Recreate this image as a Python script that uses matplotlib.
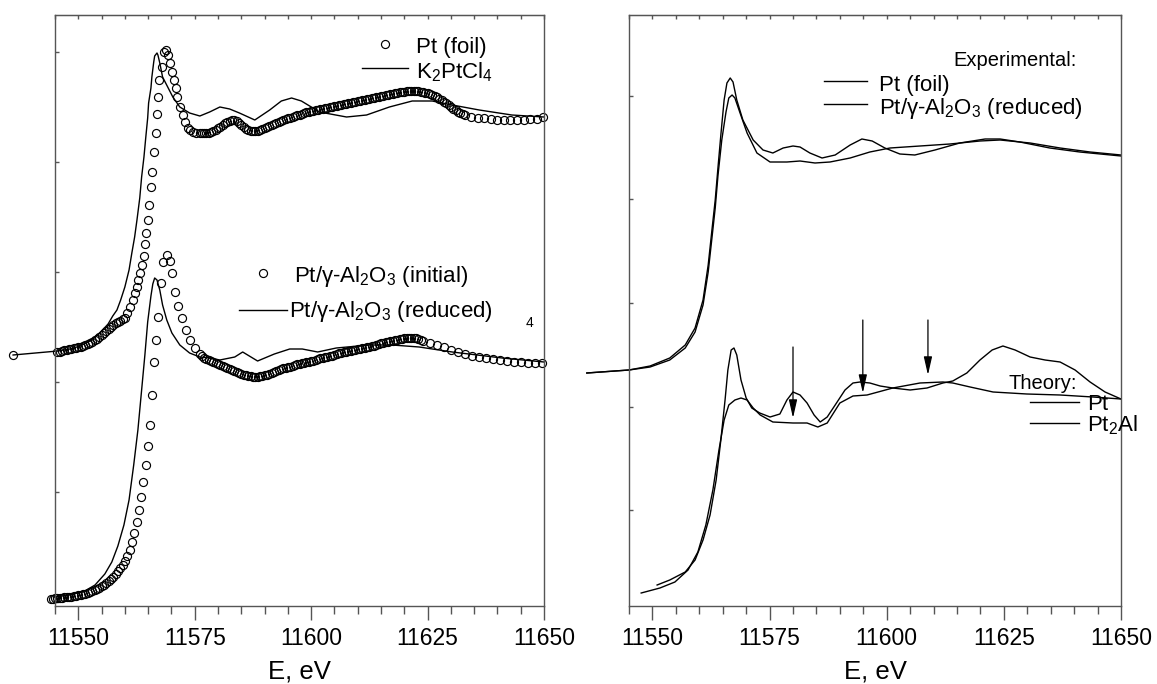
import matplotlib
matplotlib.use('Agg')
import matplotlib.pyplot as plt
from matplotlib.ticker import MultipleLocator
from matplotlib.lines import Line2D

plt.rcParams['font.family'] = ['Liberation Sans', 'DejaVu Sans']
plt.rcParams['mathtext.fontset'] = 'custom'
plt.rcParams['mathtext.rm'] = 'Liberation Sans'

# ---------------- data (E in eV, normalized absorption with offsets) ----------------
# Left panel: Pt foil (circles, upper)
foil_E = [11536.0,
          11545.5, 11546.0, 11546.5, 11547.0, 11547.5, 11548.0, 11548.5, 11549.0, 11549.5, 11550.0,
          11550.5, 11551.0, 11551.5, 11552.0, 11552.5, 11553.0, 11553.5, 11554.0, 11554.5, 11555.0,
          11555.5, 11556.0, 11556.5, 11557.0, 11557.5, 11558.0, 11558.5, 11559.0, 11559.5,
          11560.0, 11560.4, 11561.1, 11561.7, 11562.1, 11562.6, 11562.8, 11563.2, 11563.6, 11564.1,
          11564.3, 11564.5, 11564.9, 11565.1, 11565.6, 11565.8, 11566.2, 11566.6, 11566.9, 11567.1,
          11567.3, 11567.9, 11568.5, 11568.8, 11569.2, 11569.6, 11570.1, 11570.5, 11570.9, 11571.1,
          11571.8, 11572.4, 11572.9, 11573.5, 11574.0, 11574.6, 11575.3, 11576.1,
          11576.5, 11577.0, 11577.5, 11578.0, 11578.5, 11579.0, 11579.5, 11580.0, 11580.5, 11581.0,
          11581.5, 11582.0, 11582.5, 11583.0, 11583.5, 11584.0, 11584.5, 11585.0, 11585.5, 11586.0,
          11586.5, 11587.0, 11587.5, 11588.0, 11588.5, 11589.0, 11589.5, 11590.0, 11590.5, 11591.0,
          11591.5, 11592.0, 11592.5, 11593.0, 11593.5, 11594.0, 11594.5, 11595.0, 11595.5, 11596.0,
          11596.5, 11597.0, 11597.5, 11598.0, 11598.5, 11599.0, 11599.5, 11600.0, 11600.5, 11601.0,
          11601.5, 11602.0, 11602.5, 11603.0, 11603.5, 11604.0, 11604.5, 11605.0, 11605.5, 11606.0,
          11606.5, 11607.0, 11607.5, 11608.0, 11608.5, 11609.0, 11609.5, 11610.0, 11610.5, 11611.0,
          11611.5, 11612.0, 11612.5, 11613.0, 11613.5, 11614.0, 11614.5, 11615.0, 11615.5, 11616.0,
          11616.5, 11617.0, 11617.5, 11618.0, 11618.5, 11619.0, 11619.5, 11620.0, 11620.5, 11621.0,
          11621.5, 11622.0, 11622.5, 11623.0, 11623.5, 11624.0, 11624.5, 11625.0, 11625.5, 11626.0,
          11626.5, 11627.0, 11627.5, 11628.0, 11628.5, 11629.0, 11629.5, 11630.0, 11630.5, 11631.0,
          11631.5, 11632.0, 11632.5, 11633.0,
          11634.4, 11635.8, 11637.2, 11638.6, 11640.0, 11641.4, 11642.8, 11644.2, 11645.6, 11647.0,
          11648.4, 11649.8]
foil_mu = [2.45,
           2.48, 2.48, 2.49, 2.50, 2.50, 2.51, 2.51, 2.52, 2.52, 2.53,
           2.53, 2.54, 2.55, 2.56, 2.57, 2.58, 2.60, 2.61, 2.63, 2.65,
           2.67, 2.69, 2.71, 2.73, 2.75, 2.77, 2.78, 2.79, 2.81,
           2.82, 2.87, 2.93, 3.00, 3.07, 3.13, 3.20, 3.27, 3.35, 3.44,
           3.56, 3.67, 3.80, 3.95, 4.13, 4.28, 4.48, 4.67, 4.86, 5.03,
           5.20, 5.33, 5.48, 5.50, 5.45, 5.37, 5.28, 5.20, 5.12, 5.03,
           4.93, 4.85, 4.78, 4.72, 4.70, 4.68, 4.67, 4.67,
           4.67, 4.67, 4.67, 4.67, 4.68, 4.69, 4.70, 4.72, 4.73, 4.75,
           4.77, 4.78, 4.79, 4.80, 4.80, 4.79, 4.77, 4.75, 4.73, 4.71,
           4.70, 4.69, 4.69, 4.69, 4.69, 4.70, 4.71, 4.72, 4.73, 4.74,
           4.75, 4.76, 4.77, 4.78, 4.79, 4.80, 4.81, 4.82, 4.82, 4.83,
           4.84, 4.85, 4.85, 4.86, 4.87, 4.88, 4.88, 4.89, 4.89, 4.90,
           4.90, 4.91, 4.91, 4.92, 4.92, 4.93, 4.93, 4.94, 4.94, 4.95,
           4.95, 4.96, 4.96, 4.97, 4.97, 4.98, 4.98, 4.99, 4.99, 5.00,
           5.00, 5.01, 5.01, 5.02, 5.02, 5.03, 5.03, 5.04, 5.04, 5.05,
           5.05, 5.06, 5.06, 5.07, 5.07, 5.08, 5.08, 5.08, 5.09, 5.09,
           5.09, 5.09, 5.09, 5.09, 5.08, 5.08, 5.07, 5.07, 5.06, 5.05,
           5.04, 5.03, 5.01, 5.00, 4.98, 4.97, 4.95, 4.93, 4.91, 4.90,
           4.88, 4.87, 4.86, 4.85,
           4.83, 4.82, 4.82, 4.81, 4.80, 4.80, 4.80, 4.80, 4.80, 4.81,
           4.81, 4.83]

# Left panel: K2PtCl4 (line, upper)
k2_E = [11536.0, 11545.6, 11548.2, 11550.4, 11552.5, 11554.6, 11556.4, 11557.4, 11558.3, 11559.1,
        11560.0, 11560.9, 11561.5, 11562.1, 11562.6, 11563.2, 11563.6, 11564.1, 11564.5, 11564.9,
        11565.1, 11565.6, 11565.8, 11566.2, 11566.4, 11566.9, 11567.1, 11567.5, 11568.1, 11569.2,
        11570.3, 11571.8, 11573.9, 11576.1, 11578.2, 11580.4, 11582.5, 11584.6, 11587.9, 11591.1,
        11593.6, 11595.8, 11597.9, 11601.8, 11607.6, 11611.9, 11616.8, 11621.7, 11626.0, 11630.3,
        11636.1, 11643.1, 11650.0]
k2_mu = [2.45, 2.49, 2.51, 2.54, 2.59, 2.67, 2.76, 2.84, 2.90, 3.00,
         3.13, 3.30, 3.47, 3.63, 3.80, 4.02, 4.23, 4.43, 4.63, 4.82,
         4.97, 5.12, 5.23, 5.38, 5.44, 5.47, 5.45, 5.37, 5.23, 5.13,
         5.03, 4.93, 4.87, 4.84, 4.88, 4.93, 4.91, 4.87, 4.80, 4.90,
         4.99, 5.02, 4.99, 4.88, 4.83, 4.85, 4.93, 4.99, 4.99, 4.95,
         4.90, 4.85, 4.83]

# Left panel: Pt/γ-Al2O3 initial (circles, lower)
init_E = [11544.1, 11544.6,
          11545.0, 11545.5, 11546.0, 11546.5, 11547.0, 11547.5, 11548.0, 11548.5, 11549.0, 11549.5,
          11550.0, 11550.5, 11551.0, 11551.5, 11552.0, 11552.5, 11553.0, 11553.5, 11554.0, 11554.5,
          11555.0, 11555.5, 11556.0, 11556.5, 11557.0, 11557.5, 11558.0, 11558.5, 11559.0, 11559.5,
          11560.0,
          11560.5, 11561.0, 11561.5, 11562.0, 11562.5, 11563.0, 11563.5, 11564.0, 11564.5, 11565.0,
          11565.5, 11565.9, 11566.3, 11566.7, 11567.1, 11567.7, 11568.2, 11569.0, 11569.6, 11570.1,
          11570.7, 11571.4, 11572.2, 11573.1, 11573.9, 11575.0, 11576.1,
          11576.5, 11577.0, 11577.5, 11578.0, 11578.5, 11579.0, 11579.5, 11580.0, 11580.5, 11581.0,
          11581.5, 11582.0, 11582.5, 11583.0, 11583.5, 11584.0, 11584.5, 11585.0, 11585.5, 11586.0,
          11586.5, 11587.0, 11587.5, 11588.0, 11588.5, 11589.0, 11589.5, 11590.0, 11590.5, 11591.0,
          11591.5, 11592.0, 11592.5, 11593.0, 11593.5, 11594.0, 11594.5, 11595.0, 11595.5, 11596.0,
          11596.5, 11597.0, 11597.5, 11598.0, 11598.5, 11599.0, 11599.5, 11600.0, 11600.5, 11601.0,
          11601.5, 11602.0, 11602.5, 11603.0, 11603.5, 11604.0, 11604.5, 11605.0, 11605.5, 11606.0,
          11606.5, 11607.0, 11607.5, 11608.0, 11608.5, 11609.0, 11609.5, 11610.0, 11610.5, 11611.0,
          11611.5, 11612.0, 11612.5, 11613.0, 11613.5, 11614.0, 11614.5, 11615.0, 11615.5, 11616.0,
          11616.5, 11617.0, 11617.5, 11618.0, 11618.5, 11619.0, 11619.5, 11620.0, 11620.5, 11621.0,
          11621.5, 11622.0, 11622.5, 11623.0, 11623.5, 11624.0,
          11625.5, 11627.0, 11628.5, 11630.0, 11631.5, 11633.0, 11634.5, 11636.0, 11637.5, 11639.0,
          11640.5, 11642.0, 11643.5, 11645.0, 11646.5, 11648.0, 11649.5]
init_mu = [0.01, 0.01,
           0.02, 0.02, 0.02, 0.02, 0.03, 0.03, 0.03, 0.03, 0.04, 0.04,
           0.05, 0.05, 0.06, 0.06, 0.07, 0.08, 0.09, 0.10, 0.11, 0.12,
           0.14, 0.15, 0.17, 0.19, 0.21, 0.23, 0.26, 0.29, 0.32, 0.35,
           0.39,
           0.44, 0.50, 0.58, 0.67, 0.78, 0.90, 1.03, 1.18, 1.35, 1.54,
           1.75, 2.05, 2.38, 2.60, 2.83, 3.17, 3.38, 3.45, 3.39, 3.27,
           3.08, 2.94, 2.82, 2.70, 2.60, 2.52, 2.46,
           2.44, 2.42, 2.41, 2.40, 2.39, 2.38, 2.37, 2.36, 2.35, 2.34,
           2.33, 2.32, 2.31, 2.30, 2.29, 2.28, 2.27, 2.26, 2.25, 2.25,
           2.24, 2.24, 2.23, 2.23, 2.23, 2.24, 2.24, 2.25, 2.25, 2.26,
           2.27, 2.28, 2.29, 2.30, 2.31, 2.32, 2.32, 2.33, 2.33, 2.34,
           2.35, 2.36, 2.36, 2.37, 2.37, 2.38, 2.38, 2.39, 2.39, 2.40,
           2.41, 2.42, 2.42, 2.43, 2.43, 2.44, 2.44, 2.45, 2.46, 2.47,
           2.47, 2.48, 2.48, 2.49, 2.49, 2.50, 2.50, 2.51, 2.51, 2.52,
           2.52, 2.53, 2.53, 2.54, 2.54, 2.55, 2.56, 2.57, 2.57, 2.58,
           2.58, 2.59, 2.59, 2.60, 2.60, 2.61, 2.61, 2.62, 2.62, 2.62,
           2.62, 2.62, 2.62, 2.61, 2.60, 2.59,
           2.57, 2.55, 2.53, 2.50, 2.48, 2.46, 2.44, 2.43, 2.42, 2.41,
           2.40, 2.39, 2.38, 2.38, 2.37, 2.37, 2.37]

# Left panel: Pt/γ-Al2O3 reduced (line, lower)
red_E = [11545.0, 11548.2, 11551.4, 11553.6, 11555.7, 11557.2, 11558.5, 11559.8, 11560.9, 11561.9,
         11562.8, 11563.6, 11564.3, 11564.9, 11565.6, 11566.0, 11566.4, 11566.9, 11567.5, 11568.1,
         11569.0, 11570.1, 11571.8, 11573.9, 11576.1, 11578.2, 11580.4, 11583.6, 11585.3, 11588.5,
         11592.1, 11595.4, 11598.1, 11601.4, 11605.4, 11612.5, 11617.4, 11623.2, 11630.3, 11641.0,
         11650.0]
red_mu = [0.03, 0.05, 0.09, 0.15, 0.26, 0.38, 0.54, 0.75, 1.00, 1.35,
          1.70, 2.10, 2.45, 2.78, 3.04, 3.16, 3.22, 3.20, 3.10, 2.95,
          2.80, 2.67, 2.55, 2.47, 2.43, 2.42, 2.40, 2.43, 2.48, 2.39,
          2.46, 2.51, 2.51, 2.48, 2.52, 2.55, 2.55, 2.53, 2.48, 2.42,
          2.38]

# Right panel: experimental Pt foil
expA_E = [11536.0, 11545.0, 11549.5, 11553.7, 11557.0, 11559.1, 11560.8, 11561.9, 11562.7, 11563.4,
          11564.0, 11564.6, 11565.3, 11565.9, 11566.6, 11567.2, 11568.0, 11569.3, 11571.5, 11573.6,
          11575.7, 11577.9, 11580.0, 11581.5, 11583.6, 11586.2, 11589.0, 11592.2, 11594.7, 11596.9,
          11599.6, 11602.8, 11606.0, 11610.3, 11615.6, 11621.0, 11624.2, 11628.4, 11634.8, 11641.2,
          11650.0]
expA_mu = [2.27, 2.30, 2.34, 2.42, 2.55, 2.72, 3.00, 3.35, 3.70, 4.00,
           4.33, 4.65, 5.00, 5.17, 5.22, 5.18, 5.00, 4.80, 4.60, 4.50,
           4.47, 4.52, 4.54, 4.53, 4.47, 4.42, 4.45, 4.55, 4.61, 4.59,
           4.52, 4.46, 4.45, 4.50, 4.57, 4.61, 4.61, 4.58, 4.52, 4.48,
           4.44]

# Right panel: experimental Pt/γ-Al2O3 reduced
expB_E = [11536.0, 11545.0, 11549.5, 11553.7, 11557.0, 11559.1, 11560.8, 11561.9, 11562.7, 11563.4,
          11564.0, 11564.8, 11565.7, 11566.3, 11567.0, 11567.6, 11568.7, 11570.2, 11572.3, 11575.1,
          11578.7, 11581.5, 11584.7, 11587.9, 11592.2, 11596.4, 11600.7, 11607.1, 11613.5, 11619.9,
          11624.2, 11630.6, 11637.0, 11643.4, 11650.0]
expB_mu = [2.27, 2.30, 2.33, 2.40, 2.52, 2.68, 2.95, 3.28, 3.62, 3.92,
           4.25, 4.60, 4.88, 5.02, 5.05, 5.02, 4.87, 4.67, 4.47, 4.38,
           4.38, 4.39, 4.37, 4.38, 4.42, 4.48, 4.52, 4.54, 4.56, 4.59,
           4.60, 4.57, 4.52, 4.48, 4.45]

# Right panel: theory Pt
thPt_E = [11551.0, 11553.7, 11557.0, 11559.1, 11560.8, 11562.3, 11563.6, 11564.6, 11565.5, 11566.1,
          11566.8, 11567.4, 11568.0, 11568.9, 11570.0, 11571.2, 11572.9, 11575.1, 11577.2, 11578.7,
          11580.0, 11581.5, 11583.0, 11584.5, 11585.8, 11587.3, 11589.0, 11591.1, 11592.8, 11594.3,
          11596.4, 11598.6, 11601.3, 11605.0, 11608.6, 11612.0, 11614.1, 11617.1, 11619.9, 11622.5,
          11624.8, 11627.4, 11630.6, 11633.8, 11637.0, 11640.2, 11643.4, 11646.6, 11650.0]
thPt_mu = [0.15, 0.20, 0.28, 0.40, 0.60, 0.85, 1.20, 1.60, 2.00, 2.30,
           2.50, 2.52, 2.45, 2.20, 2.02, 1.92, 1.87, 1.83, 1.86, 2.00,
           2.08, 2.05, 1.97, 1.85, 1.78, 1.83, 1.95, 2.10, 2.17, 2.18,
           2.17, 2.14, 2.12, 2.10, 2.12, 2.17, 2.19, 2.27, 2.40, 2.50,
           2.54, 2.50, 2.43, 2.40, 2.38, 2.30, 2.18, 2.08, 2.01]

# Right panel: theory Pt2Al
thAl_E = [11547.6, 11551.6, 11554.8, 11557.6, 11559.7, 11561.4, 11562.9, 11564.2, 11565.3, 11566.3,
          11567.6, 11568.9, 11570.2, 11571.5, 11573.0, 11575.7, 11580.0, 11583.0, 11585.3, 11587.3,
          11590.0, 11592.8, 11595.8, 11601.3, 11607.1, 11612.0, 11614.1, 11617.8, 11622.7, 11629.9,
          11637.0, 11644.0, 11650.0]
thAl_mu = [0.07, 0.12, 0.18, 0.30, 0.48, 0.75, 1.10, 1.50, 1.80, 1.95,
           2.00, 2.02, 2.00, 1.92, 1.85, 1.78, 1.77, 1.77, 1.73, 1.77,
           1.97, 2.04, 2.05, 2.12, 2.17, 2.18, 2.17, 2.13, 2.08, 2.06,
           2.05, 2.03, 2.01]

# Arrows marking features: energy, start level, tip level
arrow_E = [11580.0, 11594.9, 11608.8]
arrow_from = [2.53, 2.80, 2.80]
arrow_to = [1.82, 2.07, 2.25]

xticks_major = [11550, 11575, 11600, 11625, 11650]
xlim = (11545, 11650)
ylim = (-0.06, 5.85)

# ---------------- figure ----------------
W, H = 1157, 684
fig = plt.figure(figsize=(W / 100, H / 100), dpi=100)


def box(x0, x1, y0, y1):
    return [x0 / W, 1 - y1 / H, (x1 - x0) / W, (y1 - y0) / H]


axL = fig.add_axes(box(55, 544, 15, 606))
axR = fig.add_axes(box(629, 1121, 15, 606))
SP = '#555555'

for ax, ytick_base, ytick_off in ((axL, 1.1, -0.02), (axR, 1.035, 0.9)):
    ax.set_xlim(*xlim)
    ax.set_ylim(*ylim)
    ax.set_xticks(xticks_major)
    ax.xaxis.set_minor_locator(MultipleLocator(5))
    ax.yaxis.set_major_locator(MultipleLocator(ytick_base, offset=ytick_off))
    ax.tick_params(axis='x', which='major', direction='out', length=10, width=1.0,
                   color=SP, labelsize=16.5, pad=5)
    ax.tick_params(axis='x', which='minor', direction='out', length=5.5, width=1.0, color=SP)
    ax.tick_params(axis='y', which='major', direction='in', length=3, width=1.0, color=SP,
                   labelleft=False)
    for s in ax.spines.values():
        s.set_color(SP)
        s.set_linewidth(1.0)
    sec = ax.secondary_xaxis('top')
    sec.xaxis.set_major_locator(MultipleLocator(5))
    sec.tick_params(direction='in', length=3, width=1.0, color=SP, labeltop=False)
    sec.spines['top'].set_color(SP)
    ax.set_xlabel('E, eV', fontsize=18.5, labelpad=7)

MS = 5.8
mk = dict(marker='o', ms=MS, mfc='none', mec='black', mew=0.85, ls='none', clip_on=False)
ln = dict(color='black', lw=1.0, clip_on=False)

axL.plot(foil_E, foil_mu, **mk)
axL.plot(k2_E, k2_mu, **ln)
axL.plot(init_E, init_mu, **mk)
axL.plot(red_E, red_mu, **ln)

axR.plot(expA_E, expA_mu, **ln)
axR.plot(expB_E, expB_mu, **ln)
axR.plot(thPt_E, thPt_mu, **ln)
axR.plot(thAl_E, thAl_mu, **ln)
for e, y0, y1 in zip(arrow_E, arrow_from, arrow_to):
    axR.annotate('', xy=(e, y1), xytext=(e, y0),
                 arrowprops=dict(arrowstyle='-|>,head_length=1.1,head_width=0.25',
                                 color='black', lw=0.9, shrinkA=0, shrinkB=0,
                                 mutation_scale=10))

# ---------------- legends (drawn as text + samples in figure pixels) ----------------
FS = 16


def ftext(px, py, s, **kw):
    kw.setdefault('fontsize', FS)
    kw.setdefault('va', 'baseline')
    fig.text(px / W, 1 - py / H, s, **kw)


def fline(x0, x1, py):
    fig.add_artist(Line2D([x0 / W, x1 / W], [1 - py / H] * 2, color='black', lw=1.0))


def fmark(px, py):
    fig.add_artist(Line2D([px / W], [1 - py / H], marker='o', ms=MS, mfc='none',
                          mec='black', mew=0.85, ls='none'))


alo = r'Pt/γ-Al$_\mathregular{2}$O$_\mathregular{3}$'

fmark(385, 44)
ftext(416, 53, 'Pt (foil)')
fline(362, 408, 68)
ftext(416, 78, r'K$_\mathregular{2}$PtCl$_\mathregular{4}$')

fmark(263, 273)
ftext(294, 282, alo + ' (initial)')
fline(239, 287, 310)
ftext(289, 317, alo + ' (reduced)')
ftext(530, 327, '4', fontsize=10, ha='center')

ftext(1077, 66, 'Experimental:', ha='right', fontsize=14.5)
fline(824, 867, 81)
ftext(879, 91, 'Pt (foil)')
fline(824, 867, 104)
ftext(879, 114, alo + ' (reduced)')

ftext(1077, 389, 'Theory:', ha='right', fontsize=14.5)
fline(1030, 1079, 402)
ftext(1087, 410, 'Pt')
fline(1030, 1079, 423)
ftext(1087, 431, r'Pt$_\mathregular{2}$Al')

fig.savefig('out.png', dpi=100)
